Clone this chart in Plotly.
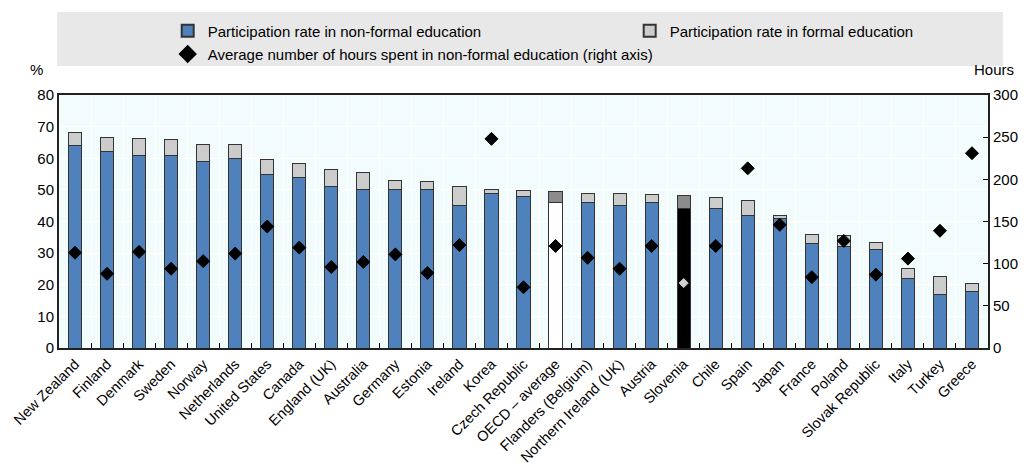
import plotly.graph_objects as go

countries = ["New Zealand", "Finland", "Denmark", "Sweden", "Norway", "Netherlands",
             "United States", "Canada", "England (UK)", "Australia", "Germany", "Estonia",
             "Ireland", "Korea", "Czech Republic", "OECD \u2013 average", "Flanders (Belgium)",
             "Northern Ireland (UK)", "Austria", "Slovenia", "Chile", "Spain", "Japan",
             "France", "Poland", "Slovak Republic", "Italy", "Turkey", "Greece"]

non_formal = [64, 62, 61, 61, 59, 60, 55, 54, 51, 50, 50, 50, 45, 49, 48, 46, 46, 45, 46,
              44, 44, 42, 41, 33, 32, 31, 22, 17, 18]
total = [68, 66.5, 66.3, 66, 64.3, 64.2, 59.5, 58.4, 56.3, 55.5, 53, 52.8, 51, 50.2, 49.7,
         49.5, 49, 48.8, 48.5, 48.3, 47.5, 46.7, 42, 36, 35.5, 33.3, 25, 22.5, 20.5]
formal = [round(t - n, 1) for t, n in zip(total, non_formal)]
hours = [113, 88, 114, 94, 103, 112, 144, 119, 96, 102, 111, 89, 122, 248, 72, 121, 107,
         94, 121, 77, 121, 213, 146, 84, 127, 87, 106, 139, 231]

BLUE = "#4f81bd"
LGRAY = "#cccccc"
DGRAY = "#8c8c8c"

nf_colors = [BLUE] * len(countries)
f_colors = [LGRAY] * len(countries)
d_colors = ["black"] * len(countries)
d_sizes = [10] * len(countries)
i_oecd = countries.index("OECD \u2013 average")
i_svn = countries.index("Slovenia")
nf_colors[i_oecd] = "white"
f_colors[i_oecd] = DGRAY
nf_colors[i_svn] = "black"
f_colors[i_svn] = DGRAY
d_colors[i_svn] = "#d0d0d0"
d_sizes[i_svn] = 7

font = "Liberation Sans, Arial"

fig = go.Figure()
fig.add_trace(go.Bar(x=countries, y=non_formal, name="Participation rate in non-formal education",
                     legend="legend",
                     marker=dict(color=nf_colors, line=dict(color="#333333", width=1))))
fig.add_trace(go.Bar(x=countries, y=formal, name="Participation rate in formal education",
                     legend="legend",
                     marker=dict(color=f_colors, line=dict(color="#333333", width=1))))
fig.add_trace(go.Scatter(x=countries, y=hours, yaxis="y2", mode="markers",
                         name="Average number of hours spent in non-formal education (right axis)",
                         legend="legend2",
                         marker=dict(symbol="diamond", size=d_sizes, color=d_colors,
                                     opacity=1, line=dict(width=1, color=d_colors))))

fig.update_layout(
    width=1031, height=463,
    margin=dict(l=59, r=43, t=95, b=115, autoexpand=False),
    barmode="stack", bargap=0.59,
    plot_bgcolor="#f2fcfc", paper_bgcolor="white",
    font=dict(family=font, size=15, color="black"),
    showlegend=True,
    legend=dict(orientation="h", x=0.117, xanchor="left", y=1.318, yanchor="top",
                bgcolor="rgba(0,0,0,0)", entrywidth=417, entrywidthmode="pixels",
                font=dict(size=15), traceorder="normal", itemsizing="constant"),
    legend2=dict(orientation="h", x=0.117, xanchor="left", y=1.226, yanchor="top",
                 bgcolor="rgba(0,0,0,0)", font=dict(size=15), itemsizing="constant"),
    xaxis=dict(type="category", range=[-0.5, len(countries) - 0.5], tickangle=-45,
               tickson="boundaries", ticks="inside",
               ticklen=5, tickcolor="black", showgrid=True, gridcolor="white", gridwidth=1,
               showline=True, linecolor="#222222", linewidth=2, mirror=True,
               tickfont=dict(size=14.5), automargin=False),
    yaxis=dict(range=[0, 80], dtick=10, showgrid=True, gridcolor="white", gridwidth=1,
               showline=True, linecolor="#222222", linewidth=2, ticks="",
               tickfont=dict(size=15), zeroline=False, automargin=False),
    yaxis2=dict(range=[0, 300], dtick=50, overlaying="y", side="right", showgrid=False,
                showline=True, linecolor="#222222", linewidth=2, ticks="inside", ticklen=5,
                tickcolor="black", tickfont=dict(size=15), zeroline=False, automargin=False),
    shapes=[dict(type="rect", xref="paper", yref="paper", x0=-0.002, x1=1.016,
                 y0=1.115, y1=1.328, fillcolor="#e8e8e8", line=dict(width=0), layer="below")],
    annotations=[
        dict(text="%", xref="paper", yref="paper", x=-0.015, y=1.06, xanchor="right",
             yanchor="bottom", showarrow=False, font=dict(size=15)),
        dict(text="Hours", xref="paper", yref="paper", x=1.03, y=1.06, xanchor="right",
             yanchor="bottom", showarrow=False, font=dict(size=15)),
    ],
)

# drop the browser's default body margin so the figure fills the window
fig.write_html("out.html", config={"displayModeBar": False},
               post_script="document.body.style.margin='0px';document.body.style.overflow='hidden';")
